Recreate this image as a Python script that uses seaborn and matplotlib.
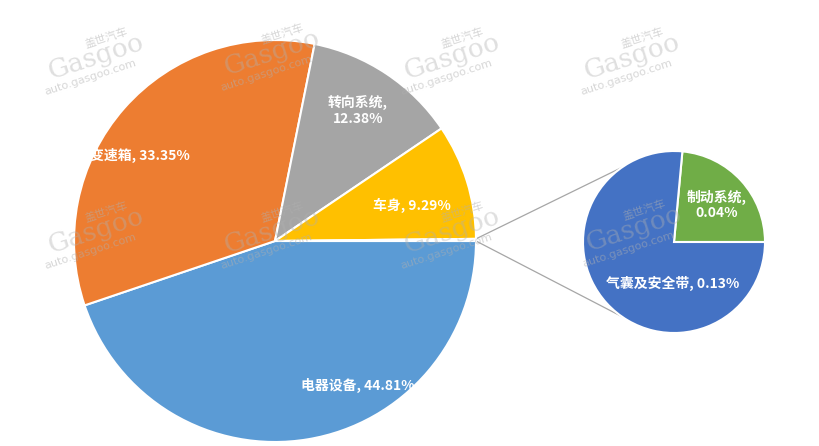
import numpy as np
import matplotlib
matplotlib.use("Agg")
import matplotlib.pyplot as plt
import seaborn as sns

# data
main_labels = ['电器设备', '变速箱', '转向系统', '车身', '其他']
main_values = [44.81, 33.35, 12.38, 9.29, 0.17]
sub_labels = ['制动系统', '气囊及安全带']
sub_values = [0.04, 0.13]

main_colors = ['#5B9BD5', '#ED7D31', '#A5A5A5', '#FFC000', '#4472C4']
sub_colors = ['#70AD47', '#4472C4']

sns.set_theme(style="white")
plt.rcParams['font.family'] = ['Noto Sans CJK SC', 'DejaVu Sans']

W, H = 820, 446
fig = plt.figure(figsize=(8.2, 4.46), dpi=100)
ax = fig.add_axes([0, 0, 1, 1])

main_c, main_r = (275, 205), 201
sub_c, sub_r = (674, 204), 91

wedges, _ = ax.pie(main_values, colors=main_colors, startangle=0, counterclock=False,
                   center=main_c, radius=main_r, frame=True,
                   wedgeprops=dict(edgecolor='white', linewidth=1.5))
ax.pie(sub_values, colors=sub_colors, startangle=0, counterclock=True,
       center=sub_c, radius=sub_r, frame=True,
       wedgeprops=dict(edgecolor='white', linewidth=1.5))
ax.set_xlim(0, W)
ax.set_ylim(0, H)
ax.set_aspect('equal')
ax.axis('off')

# faint watermarks
for wx, wy in [(92, 386), (268, 390), (448, 386), (628, 386),
               (92, 212), (268, 212), (448, 212), (630, 214)]:
    ax.text(wx + 14, wy + 22, '盖世汽车', fontsize=8, color='#b0b0b0', rotation=18,
            ha='center', va='center', alpha=0.5, zorder=5)
    ax.text(wx + 4, wy + 3, 'Gasgoo', fontsize=19, color='#b0b0b0', rotation=18,
            ha='center', va='center', alpha=0.4, family='DejaVu Serif', zorder=5)
    ax.text(wx - 2, wy - 17, 'auto.gasgoo.com', fontsize=8, color='#b0b0b0', rotation=18,
            ha='center', va='center', alpha=0.5, family='DejaVu Sans', zorder=5)

# connector lines from "other" slice to secondary pie
other = wedges[-1]
for a_main, a_sub in [(other.theta2, 125), (other.theta1, -125)]:
    x0 = main_c[0] + main_r * np.cos(np.radians(a_main))
    y0 = main_c[1] + main_r * np.sin(np.radians(a_main))
    x1 = sub_c[0] + sub_r * np.cos(np.radians(a_sub))
    y1 = sub_c[1] + sub_r * np.sin(np.radians(a_sub))
    ax.plot([x0, x1], [y0, y1], color='#a6a6a6', lw=0.9, zorder=0)

tk = dict(color='white', fontsize=10, fontweight='bold', ha='center', va='center', zorder=6)
ax.text(358, H - 385, f'{main_labels[0]}, {main_values[0]:.2f}%', **tk)
ax.text(140, H - 155, f'{main_labels[1]}, {main_values[1]:.2f}%', **tk)
ax.text(358, H - 111, f'{main_labels[2]},\n{main_values[2]:.2f}%', linespacing=1.1, **tk)
ax.text(412, H - 205, f'{main_labels[3]}, {main_values[3]:.2f}%', **tk)
ax.text(717, H - 205, f'{sub_labels[0]},\n{sub_values[0]:.2f}%', linespacing=1.1, **tk)
ax.text(673, H - 283, f'{sub_labels[1]}, {sub_values[1]:.2f}%', **tk)

fig.savefig('out.png', dpi=100, facecolor='white')
